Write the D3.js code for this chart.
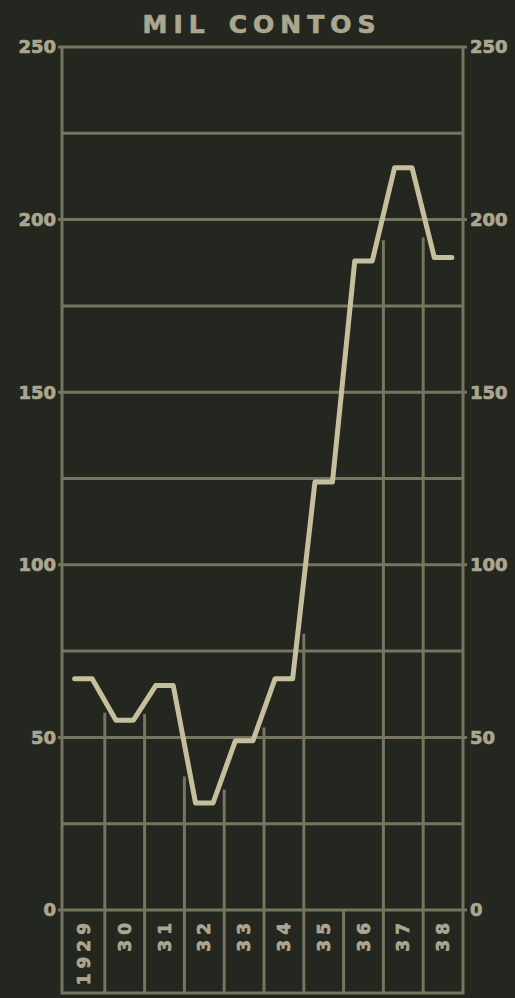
<!DOCTYPE html>
<html>
<head>
<meta charset="utf-8">
<script src="https://cdn.jsdelivr.net/npm/d3@7"></script>
<style>
  html, body { margin: 0; padding: 0; background: #24271f; }
  svg { display: block; }
</style>
</head>
<body>
<div id="chart"></div>
<script>
// Data
const years = ['1929', '30', '31', '32', '33', '34', '35', '36', '37', '38']
const values = [67, 55, 65, 31, 49, 67, 124, 188, 215, 189]
const gridTicks = [0, 25, 50, 75, 100, 125, 150, 175, 200, 225, 250]
const labelTicks = [0, 50, 100, 150, 200, 250]
// separators (left edge of these columns) that are not carried up into the plot
const noDropLine = ['36']

;(() => {
  const width = 515
  const height = 998
  const margin = { top: 47, right: 52, bottom: 88, left: 62 }
  const zeroY = height - margin.bottom
  const boxBottom = 993

  const bg = '#24271f'
  const gridColor = '#77745f'
  const textColor = '#aba68f'
  const lineColor = '#c6bf9e'

  const svg = d3.select('#chart')
    .append('svg')
    .attr('width', width)
    .attr('height', height)
    .style('background', bg)

  // first column is a little wider in the original
  const x = d3.scaleBand()
    .domain(years)
    .range([margin.left + 3, width - margin.right])
    .padding(0)

  const y = d3.scaleLinear()
    .domain([0, 250])
    .range([zeroY, margin.top])

  const bw = x.bandwidth()
  const half = bw * 0.22
  const center = yr => x(yr) + bw / 2 - (yr === years[0] ? 1.5 : 0)

  // points of the line: a short flat run in the middle of each column
  const pts = []
  years.forEach((yr, i) => {
    const c = center(yr)
    pts.push([c - half, values[i]])
    pts.push([c + half, values[i]])
  })

  // horizontal gridlines
  svg.append('g')
    .selectAll('line')
    .data(gridTicks)
    .join('line')
    .attr('x1', d => labelTicks.includes(d) ? margin.left - 4 : margin.left)
    .attr('x2', d => labelTicks.includes(d) ? width - margin.right + 4 : width - margin.right)
    .attr('y1', d => y(d))
    .attr('y2', d => y(d))
    .attr('stroke', gridColor)
    .attr('stroke-width', 3)

  // frame sides and bottom of label box
  svg.append('path')
    .attr('stroke', gridColor)
    .attr('stroke-width', 3)
    .attr('fill', 'none')
    .attr('d', `M${margin.left},${y(250)}V${boxBottom}H${width - margin.right}V${y(250)}`)

  // column separators: in the label box and rising up to just below the line
  const seps = years.slice(1)
  const lineAt = xp => {
    for (let i = 0; i < pts.length - 1; i++) {
      const x0 = pts[i][0], x1 = pts[i + 1][0]
      if (xp >= x0 && xp <= x1) {
        const y0 = y(pts[i][1]), y1 = y(pts[i + 1][1])
        const t = (xp - x0) / (x1 - x0)
        return { yc: y0 + (y1 - y0) * t, m: (y1 - y0) / (x1 - x0) }
      }
    }
    return null
  }
  const gap = 6
  svg.append('g')
    .selectAll('line')
    .data(seps)
    .join('line')
    .attr('x1', d => x(d))
    .attr('x2', d => x(d))
    .attr('y1', boxBottom)
    .attr('y2', d => {
      if (noDropLine.includes(d)) return zeroY
      const l = lineAt(x(d))
      return l.yc + gap * Math.sqrt(1 + l.m * l.m)
    })
    .attr('stroke', gridColor)
    .attr('stroke-width', 3)

  // the data line
  const line = d3.line()
    .x(d => d[0])
    .y(d => y(d[1]))

  svg.append('path')
    .datum(pts)
    .attr('fill', 'none')
    .attr('stroke', lineColor)
    .attr('stroke-width', 5)
    .attr('stroke-linejoin', 'round')
    .attr('stroke-linecap', 'round')
    .attr('d', line)

  const font = "'DejaVu Sans', sans-serif"

  const styleText = sel => sel
    .attr('fill', textColor)
    .attr('stroke', textColor)
    .attr('stroke-width', 0.7)
    .attr('stroke-linejoin', 'round')

  // left axis labels
  svg.append('g')
    .selectAll('text')
    .data(labelTicks)
    .join('text')
    .attr('x', margin.left - 6)
    .attr('y', d => y(d))
    .attr('dy', '0.36em')
    .attr('text-anchor', 'end')
    .style('font', `bold 18px ${font}`)
    .call(styleText)
    .text(d => d)

  // right axis labels
  svg.append('g')
    .selectAll('text')
    .data(labelTicks)
    .join('text')
    .attr('x', width - margin.right + 7)
    .attr('y', d => y(d))
    .attr('dy', '0.36em')
    .attr('text-anchor', 'start')
    .style('font', `bold 18px ${font}`)
    .call(styleText)
    .text(d => d)

  // year labels, rotated
  svg.append('g')
    .selectAll('text')
    .data(years)
    .join('text')
    .attr('transform', d => `translate(${center(d)}, ${zeroY + 8}) rotate(-90)`)
    .attr('dy', '0.36em')
    .attr('text-anchor', 'end')
    .style('font', `bold 17px ${font}`)
    .style('letter-spacing', '5px')
    .call(styleText)
    .text(d => d)

  // title
  const title = svg.append('text')
    .attr('x', 262)
    .attr('y', 33)
    .attr('text-anchor', 'middle')
    .style('font', `bold 25px ${font}`)
    .style('letter-spacing', '6px')
    .call(styleText)
  title.append('tspan').text('MIL')
  title.append('tspan').attr('dx', 18).text('CONTOS')
})()
</script>
</body>
</html>
